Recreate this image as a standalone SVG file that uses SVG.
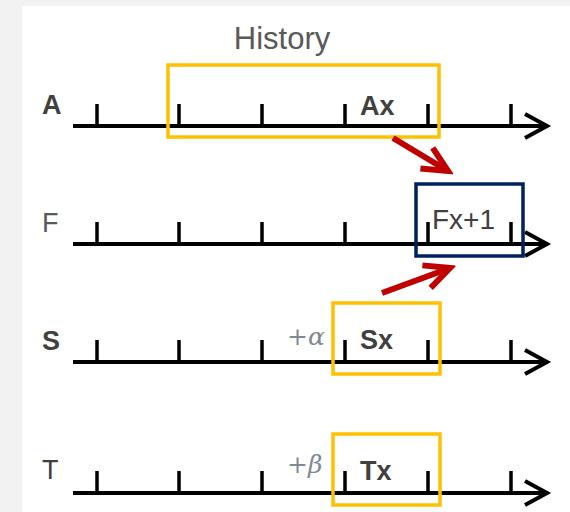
<svg xmlns="http://www.w3.org/2000/svg" width="570" height="512" viewBox="0 0 570 512">
<defs>
<style>
.axis{stroke:#000;stroke-width:4;fill:none}
.tick{stroke:#000;stroke-width:3.5;fill:none}
.ybox{fill:none;stroke:#FFC000;stroke-width:3.5}
.bbox{fill:none;stroke:#002060;stroke-width:3.5}
.red{stroke:#C00000;stroke-width:6;fill:none}
.lbl{font-family:"Liberation Sans",Arial,sans-serif;font-size:27px;fill:#404040}
.b{font-weight:bold}
.greek{font-family:"DejaVu Serif","Liberation Serif",serif;font-size:25px;fill:#808894}
</style>
<marker id="ah" markerUnits="userSpaceOnUse" viewBox="0 0 30 30" refX="24" refY="15" markerWidth="30" markerHeight="30" orient="auto">
<path d="M2,3 L24,15 L2,27" stroke="#000" stroke-width="4" fill="none"/>
</marker>
<marker id="rh" markerUnits="userSpaceOnUse" viewBox="0 0 34 34" refX="28" refY="17" markerWidth="34" markerHeight="34" orient="auto">
<path d="M3,5 L28,17 L3,29" stroke="#C00000" stroke-width="6" fill="none"/>
</marker>
</defs>
<rect x="0" y="0" width="570" height="512" fill="#F2F2F2"/>
<rect x="22" y="6" width="548" height="506" fill="#FFFFFF"/>

<text x="282" y="49" text-anchor="middle" style="font-family:'Liberation Sans',Arial,sans-serif;font-size:31px;fill:#595959">History</text>

<g id="rowA">
<line class="axis" x1="73" y1="126" x2="547" y2="126" marker-end="url(#ah)"/>
<path class="tick" d="M97,126V104M179,126V104M262,126V104M345,126V104M428,126V104M511,126V104"/>
<text class="lbl b" x="42" y="114">A</text>
<text class="lbl b" x="360" y="115">Ax</text>
<rect class="ybox" x="168" y="65" width="271" height="72"/>
</g>

<g id="rowF">
<line class="axis" x1="73" y1="244" x2="547" y2="244" marker-end="url(#ah)"/>
<path class="tick" d="M97,244V222M179,244V222M262,244V222M345,244V222M428,244V222M511,244V222"/>
<text class="lbl" x="42" y="232" style="fill:#595959">F</text>
<text class="lbl" x="432" y="229" style="font-size:28px;fill:#404040">Fx+1</text>
<rect class="bbox" x="416" y="184" width="107" height="72"/>
</g>

<g id="rowS">
<line class="axis" x1="73" y1="362" x2="547" y2="362" marker-end="url(#ah)"/>
<path class="tick" d="M97,362V340M179,362V340M262,362V340M345,362V340M428,362V340M511,362V340"/>
<text class="lbl b" x="42" y="350">S</text>
<text class="greek" x="287" y="345">+<tspan font-style="italic">α</tspan></text>
<text class="lbl b" x="360" y="349">Sx</text>
<rect class="ybox" x="333" y="303" width="107" height="71"/>
</g>

<g id="rowT">
<line class="axis" x1="73" y1="493" x2="547" y2="493" marker-end="url(#ah)"/>
<path class="tick" d="M97,493V471M179,493V471M262,493V471M345,493V471M428,493V471M511,493V471"/>
<text class="lbl" x="42" y="479">T</text>
<text class="greek" x="287" y="473">+<tspan font-style="italic">β</tspan></text>
<text class="lbl b" x="360" y="480">Tx</text>
<rect class="ybox" x="333" y="434" width="107" height="71"/>
</g>

<g id="connectors">
<line class="red" x1="393" y1="138" x2="448" y2="171" marker-end="url(#rh)"/>
<line class="red" x1="382" y1="293" x2="450" y2="268" marker-end="url(#rh)"/>
</g>
</svg>
